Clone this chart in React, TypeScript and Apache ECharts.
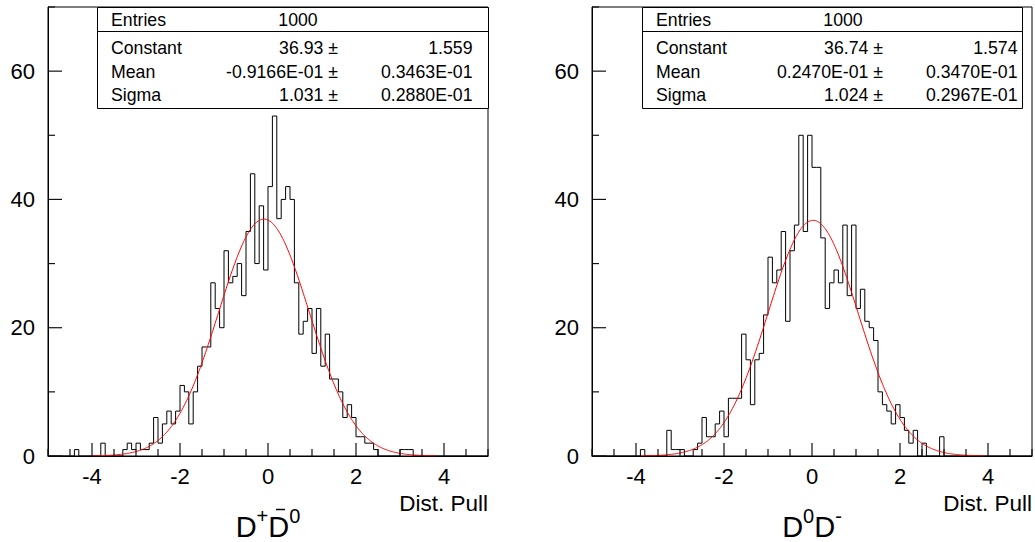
import React, { useEffect, useRef } from "react";
import * as echarts from "echarts";

// ---------- data ----------
const binLow = -5;
const binWidth = 0.1;
const xRange = [-5, 5];
const yRange = [0, 70];
const xLabelValues = [-4, -2, 0, 2, 4];
const xMinorTicks = [-5, -4.5, -3.5, -3, -2.5, -1.5, -1, -0.5, 0.5, 1, 1.5, 2.5, 3, 3.5, 4.5, 5];
const yLabelValues = [0, 20, 40, 60];
const yMinorTicks = [10, 30, 50, 70];
const xAxisTitle = "Dist. Pull";

// 100 bins from -5 to 5, left panel (D+ D0bar)
const countsLeft = [
  0, 0, 0, 0, 0, 0, 1, 0, 0, 0,
  0, 0, 2, 0, 0, 0, 0, 1, 2, 1,
  2, 1, 1, 2, 6, 2, 5, 7, 5, 7,
  11, 10, 5, 10, 14, 17, 17, 27, 23, 20,
  32, 27, 28, 30, 25, 35, 44, 30, 39, 29,
  42, 53, 37, 40, 42, 40, 27, 19, 21, 23,
  16, 23, 14, 19, 12, 12, 10, 6, 8, 6,
  3, 3, 2, 2, 1, 0, 0, 0, 0, 0,
  1, 1, 1, 0, 0, 0, 0, 0, 0, 0,
  0, 0, 0, 0, 0, 0, 0, 0, 0, 0,
];

// right panel (D0 D-)
const countsRight = [
  0, 0, 0, 0, 0, 0, 0, 0, 0, 0,
  0, 1, 0, 0, 0, 0, 0, 4, 1, 1,
  1, 0, 0, 1, 2, 6, 3, 3, 5, 7,
  3, 9, 9, 9, 19, 15, 8, 15, 16, 22,
  31, 27, 29, 35, 21, 32, 36, 50, 35, 50,
  45, 45, 34, 23, 27, 29, 27, 36, 25, 36,
  23, 26, 21, 20, 18, 10, 8, 7, 5, 8,
  6, 4, 2, 4, 0, 2, 0, 0, 0, 3,
  0, 0, 0, 0, 0, 0, 0, 0, 0, 0,
  0, 0, 0, 0, 0, 0, 0, 0, 0, 0,
];

// gaussian fit parameters: constant, mean, sigma
const fitLeft = [36.93, -0.09166, 1.031];
const fitRight = [36.74, 0.0247, 1.024];
const fitHalfRange = 3.9;

const statLabels = ["Entries", "Constant", "Mean", "Sigma"];
const statValuesLeft = ["1000", "36.93 \u00b1", "-0.9166E-01 \u00b1", "1.031 \u00b1"];
const statErrorsLeft = ["", "1.559", "0.3463E-01", "0.2880E-01"];
const statValuesRight = ["1000", "36.74 \u00b1", "0.2470E-01 \u00b1", "1.024 \u00b1"];
const statErrorsRight = ["", "1.574", "0.3470E-01", "0.2967E-01"];

const titleLeft = "{b|D}{s|+}{b|D}{s|0}";
const titleRight = "{b|D}{s|0}{b|D}{s|-}";

// ---------- layout ----------
const FONT = "'Liberation Sans', Arial, Helvetica, sans-serif";
const panelLefts = [48, 592];
const gridTop = 7;
const gridW = 440;
const gridH = 449;
const majorLen = 13;
const minorLen = 7;

function histData(counts: number[]) {
  const pts = counts.map((c, i) => [binLow + i * binWidth, c]);
  pts.push([binLow + counts.length * binWidth, 0]);
  return pts;
}

function gaussData(p: number[]) {
  const [c, m, s] = p;
  const pts: number[][] = [];
  const n = 400;
  for (let i = 0; i <= n; i++) {
    const x = m - fitHalfRange + (2 * fitHalfRange * i) / n;
    pts.push([x, c * Math.exp(-0.5 * ((x - m) / s) * ((x - m) / s))]);
  }
  return pts;
}

const near = (arr: number[], v: number) => arr.some((a) => Math.abs(a - v) < 1e-6);

function statsGraphics(left: number, right: number, values: string[], errors: string[]) {
  const els: any[] = [];
  const top = 7;
  const bottom = 108;
  els.push({
    type: "rect",
    shape: { x: left + 0.5, y: top + 0.5, width: right - left, height: bottom - top },
    style: { fill: "#fff", stroke: "#000", lineWidth: 1 },
    z: 50,
  });
  els.push({
    type: "line",
    shape: { x1: left, y1: 31.5, x2: right, y2: 31.5 },
    style: { stroke: "#000", lineWidth: 1 },
    z: 51,
  });
  const rowsY = [20, 48.3, 71.7, 94.6];
  const fs = 17.7;
  statLabels.forEach((lab, i) => {
    els.push({
      type: "text", x: left + 14, y: rowsY[i],
      style: { text: lab, fontSize: fs, fontFamily: FONT, fill: "#000", textAlign: "left", textVerticalAlign: "middle" },
      z: 52,
    });
    if (i === 0) {
      els.push({
        type: "text", x: left + 201, y: rowsY[i],
        style: { text: values[i], fontSize: fs, fontFamily: FONT, fill: "#000", textAlign: "center", textVerticalAlign: "middle" },
        z: 52,
      });
    } else {
      els.push({
        type: "text", x: left + 241, y: rowsY[i],
        style: { text: values[i], fontSize: fs, fontFamily: FONT, fill: "#000", textAlign: "right", textVerticalAlign: "middle" },
        z: 52,
      });
      els.push({
        type: "text", x: left + 375.5, y: rowsY[i],
        style: { text: errors[i], fontSize: fs, fontFamily: FONT, fill: "#000", textAlign: "right", textVerticalAlign: "middle" },
        z: 52,
      });
    }
  });
  return els;
}

export default function App() {
  const ref = useRef<HTMLDivElement>(null);
  useEffect(() => {
    if (!ref.current) return;
    const chart = echarts.init(ref.current, null, { renderer: "svg" });

    const grids = panelLefts.map((l) => ({
      left: l, top: gridTop, width: gridW, height: gridH,
      show: true, borderColor: "#000", borderWidth: 1,
    }));

    const xAxes: any[] = [];
    const yAxes: any[] = [];
    panelLefts.forEach((_, p) => {
      xAxes.push({
        type: "value", gridIndex: p, min: xRange[0], max: xRange[1], interval: 0.5,
        axisLine: { show: true, onZero: false, lineStyle: { color: "#000", width: 1 } },
        axisTick: { show: false },
        axisLabel: {
          show: true, margin: 9, fontSize: 22, fontFamily: FONT, color: "#000",
          formatter: (v: number) => (near(xLabelValues, v) ? String(Math.round(v)) : ""),
        },
        splitLine: { show: false },
      });
      yAxes.push({
        type: "value", gridIndex: p, min: yRange[0], max: yRange[1], interval: 10,
        axisLine: { show: true, onZero: false, lineStyle: { color: "#000", width: 1 } },
        axisTick: { show: false },
        axisLabel: {
          show: true, margin: 13, fontSize: 22, fontFamily: FONT, color: "#000",
          formatter: (v: number) => (near(yLabelValues, v) ? String(Math.round(v)) : ""),
        },
        splitLine: { show: false },
      });
    });

    const xTickData = [
      ...xLabelValues.map((v) => [v, yRange[0], majorLen]),
      ...xMinorTicks.map((v) => [v, yRange[0], minorLen]),
    ];
    const yTickData = [
      ...yLabelValues.map((v) => [xRange[0], v, majorLen + 1]),
      ...yMinorTicks.map((v) => [xRange[0], v, minorLen]),
    ];

    const hists = [countsLeft, countsRight];
    const fits = [fitLeft, fitRight];
    const series: any[] = [];
    hists.forEach((counts, p) => {
      series.push({
        type: "line", xAxisIndex: p, yAxisIndex: p, step: "end",
        data: histData(counts), symbol: "none",
        lineStyle: { color: "#000", width: 1 },
      });
      series.push({
        type: "line", xAxisIndex: p, yAxisIndex: p,
        data: gaussData(fits[p]), symbol: "none",
        lineStyle: { color: "#ff0000", width: 1 },
      });
      series.push({
        type: "custom", xAxisIndex: p, yAxisIndex: p, data: xTickData, clip: false, z: 100,
        renderItem: (params: any, api: any) => {
          const pt = api.coord([api.value(0), api.value(1)]);
          return {
            type: "line",
            shape: { x1: pt[0], y1: pt[1], x2: pt[0], y2: pt[1] - api.value(2) },
            style: { stroke: "#111", lineWidth: 1.2 },
          };
        },
      });
      series.push({
        type: "custom", xAxisIndex: p, yAxisIndex: p, data: yTickData, clip: false, z: 100,
        renderItem: (params: any, api: any) => {
          const pt = api.coord([api.value(0), api.value(1)]);
          return {
            type: "line",
            shape: { x1: pt[0], y1: pt[1], x2: pt[0] + api.value(2), y2: pt[1] },
            style: { stroke: "#111", lineWidth: 1.2 },
          };
        },
      });
    });

    const graphics: any[] = [
      ...statsGraphics(97, 488, statValuesLeft, statErrorsLeft),
      ...statsGraphics(642, 1022, statValuesRight, statErrorsRight),
    ];
    panelLefts.forEach((l) => {
      graphics.push({
        type: "text", x: l + gridW, y: 503,
        style: { text: xAxisTitle, fontSize: 22.5, fontFamily: FONT, fill: "#000", textAlign: "right", textVerticalAlign: "middle" },
      });
    });
    [titleLeft, titleRight].forEach((t, p) => {
      graphics.push({
        type: "text", x: panelLefts[p] + gridW / 2, y: 541,
        style: {
          text: t, textAlign: "center", textVerticalAlign: "bottom", fill: "#000",
          rich: {
            b: { fontSize: 29, fontFamily: FONT, fill: "#000", verticalAlign: "bottom", lineHeight: 35 },
            s: { fontSize: 20, fontFamily: FONT, fill: "#000", verticalAlign: "top", lineHeight: 22 },
          },
        },
      });
    });
    graphics.push({
      type: "line",
      shape: { x1: 276, y1: 509.5, x2: 285, y2: 509.5 },
      style: { stroke: "#000", lineWidth: 1.5 },
    });

    chart.setOption({
      animation: false,
      backgroundColor: "#fff",
      grid: grids,
      xAxis: xAxes,
      yAxis: yAxes,
      series,
      graphic: graphics,
    });
    return () => chart.dispose();
  }, []);
  return <div ref={ref} style={{ position: "absolute", left: 0, top: 0, width: 1035, height: 542 }} />;
}
